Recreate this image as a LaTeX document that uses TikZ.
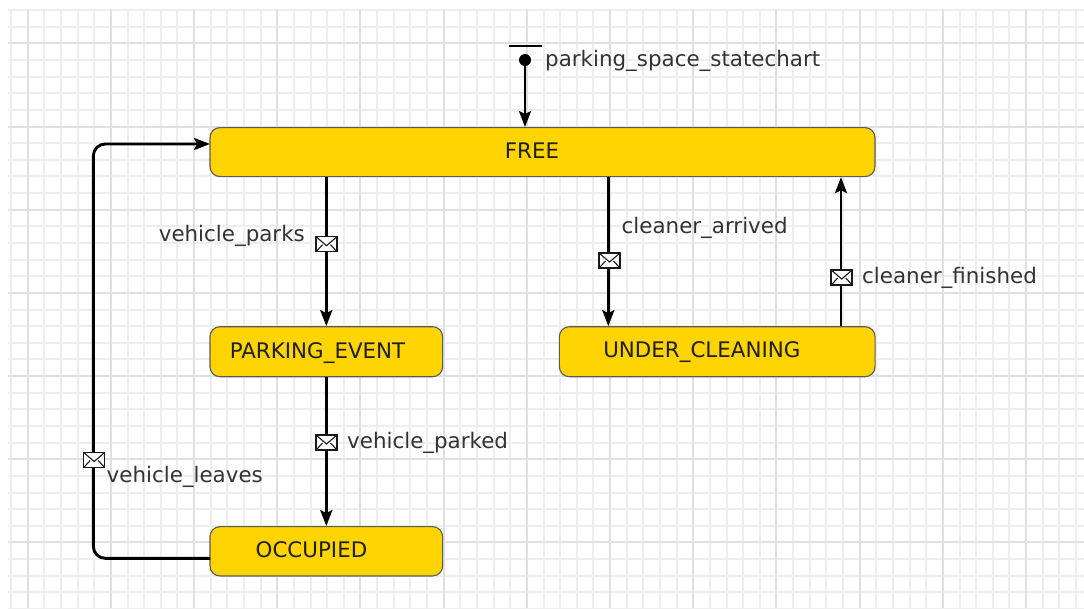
\documentclass[tikz,border=0pt]{standalone}
\usepackage{fontspec}
\setmainfont{DejaVu Sans}
\usetikzlibrary{arrows.meta,calc}
\definecolor{stategold}{HTML}{FFD400}
\definecolor{stateborder}{HTML}{5A5A5A}
\definecolor{labelgray}{HTML}{333333}
\definecolor{gridminor}{HTML}{EEEEEE}
\definecolor{gridmajor}{HTML}{E0E0E0}
\begin{document}
\begin{tikzpicture}[x=1pt,y=-1pt,
  font=\fontsize{21.4}{25}\selectfont,
  state/.style={draw=stateborder, fill=stategold, line width=1.1pt, rounded corners=10pt, inner sep=0pt},
  statetext/.style={anchor=base west, inner sep=0pt, text=black!88},
  lbl/.style={anchor=base west, inner sep=0pt, text=labelgray},
  trans/.style={draw=black, line width=2.9pt, -{Stealth[length=16pt,width=12pt,inset=3pt]}},
  env/.style={draw=black!90, fill=white, line width=1.5pt, minimum width=21pt, minimum height=15pt, inner sep=0pt,
    path picture={
      \draw[line width=1.1pt] (path picture bounding box.north west) -- ($(path picture bounding box.center)+(0,1.5)$) -- (path picture bounding box.north east);
      \draw[line width=1.1pt] (path picture bounding box.south west) -- ($(path picture bounding box.center)+(-4,0.5)$);
      \draw[line width=1.1pt] (path picture bounding box.south east) -- ($(path picture bounding box.center)+(4,0.5)$);
    }}
]
\useasboundingbox[fill=white] (0,0) rectangle (1084,608);
% grid
\begin{scope}
  \clip (8,9.5) rectangle (1084,608);
  \foreach \i in {-1,...,64} {
    \pgfmathsetmacro\gx{round(27.7+16.64*\i)}
    \draw[gridminor, line width=2pt] (\gx,0) -- (\gx,608);
  }
  \foreach \i in {-2,...,35} {
    \pgfmathsetmacro\gy{round(43.3+16.64*\i)}
    \draw[gridminor, line width=2pt] (0,\gy) -- (1084,\gy);
  }
  \foreach \i in {0,...,12} {
    \pgfmathsetmacro\gx{round(27.7+83.2*\i)}
    \draw[gridmajor, line width=2pt] (\gx,0) -- (\gx,608);
  }
  \foreach \i in {0,...,7} {
    \pgfmathsetmacro\gy{round(43.3+83.2*\i)}
    \draw[gridmajor, line width=2pt] (0,\gy) -- (1084,\gy);
  }
\end{scope}
% states
\node[state, minimum width=665pt, minimum height=49pt] (free) at (542.5,152.1) {};
\node[statetext] (freet) at (504.7,158.3) {FREE};
\node[state, minimum width=232.7pt, minimum height=50pt] (parking) at (326.3,351.7) {};
\node[statetext] (parkingt) at (229.6,358.3) {PARKING\_EVENT};
\node[state, minimum width=315.7pt, minimum height=50pt] (cleaning) at (717.2,351.7) {};
\node[statetext] (cleaningt) at (603.1,357.5) {UNDER\_CLEANING};
\node[state, minimum width=232.7pt, minimum height=49.3pt] (occupied) at (326.3,551.3) {};
\node[statetext] (occupiedt) at (255.5,557.7) {OCCUPIED};
% initial pseudostate
\coordinate (barl) at (509,46);
\coordinate (barr) at (542,46);
\draw[line width=2.5pt] (barl) -- (barr);
\node[circle, fill=black, minimum size=12pt, inner sep=0pt] (init) at (525,60) {};
\draw[trans] (init) -- (init |- free.north);
\node[lbl] (initlbl) at (545,66.7) {parking\_space\_statechart};
% FREE -> PARKING_EVENT
\draw[trans] (free.south -| parking.north) -- (parking.north);
\node[env] (m1) at (326.5,244.2) {};
\node[lbl, anchor=base east] (l1) at (305,241.7) {vehicle\_parks};
% PARKING_EVENT -> OCCUPIED
\draw[trans] (parking.south) -- (occupied.north);
\node[env] (m2) at (326.5,442.5) {};
\node[lbl] (l2) at (347,448.3) {vehicle\_parked};
% FREE -> UNDER_CLEANING
\coordinate (xa) at (608.3,0);
\draw[trans] (free.south -| xa) -- (cleaning.north -| xa);
\node[env] (m3) at (609.5,260.5) {};
\node[lbl] (l3) at (621.5,233) {cleaner\_arrived};
% UNDER_CLEANING -> FREE
\coordinate (xf) at (841,0);
\draw[trans] (cleaning.north -| xf) -- (free.south -| xf);
\node[env] (m4) at (841.7,277.5) {};
\node[lbl] (l4) at (862,283) {cleaner\_finished};
% OCCUPIED -> FREE
\coordinate (occout) at (210,558.3);
\coordinate (freein) at (210,144);
\coordinate (xl) at (93.3,0);
\draw[trans, rounded corners=12pt] (occout) -- (occout -| xl) -- (freein -| xl) -- (freein);
\node[env] (m5) at (94.2,460) {};
\node[lbl] (l5) at (106.5,482.7) {vehicle\_leaves};
\end{tikzpicture}
\end{document}
